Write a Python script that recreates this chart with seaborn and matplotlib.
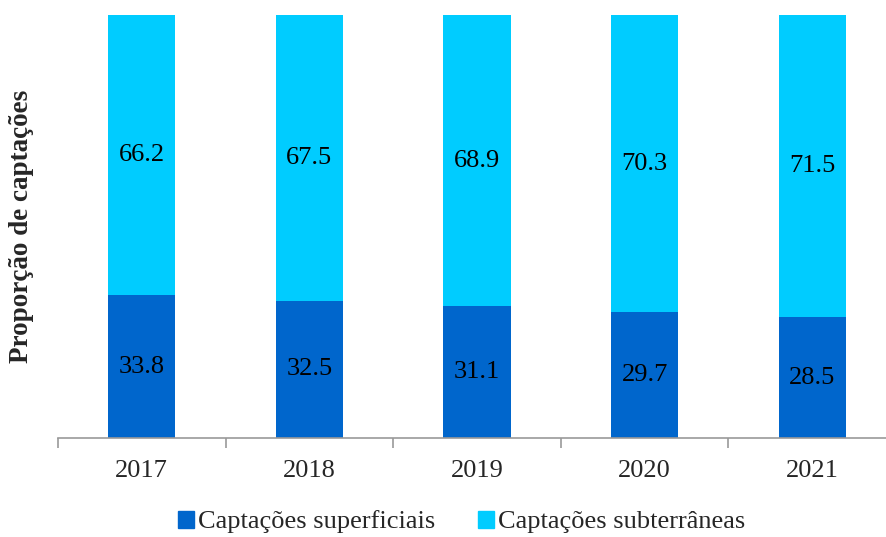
import pandas as pd
import matplotlib.pyplot as plt
import seaborn as sns
from matplotlib.patches import Patch

anos = ['2017', '2018', '2019', '2020', '2021']
superficiais = [33.8, 32.5, 31.1, 29.7, 28.5]
subterraneas = [66.2, 67.5, 68.9, 70.3, 71.5]

cor_sup = '#0066CC'
cor_sub = '#00CCFF'

sns.set_style('white')
plt.rcParams['font.family'] = ['Liberation Serif', 'DejaVu Serif']

df = pd.DataFrame({'ano': anos, 'sup': superficiais, 'sub': subterraneas})
df['total'] = df['sup'] + df['sub']

fig = plt.figure(figsize=(8.86, 5.37), dpi=100)
ax = fig.add_axes([58 / 886, 99 / 537, 838 / 886, 423 / 537])

# stacked bars: total (light) behind, superficial (dark) in front
sns.barplot(data=df, x='ano', y='total', color=cor_sub, width=0.4, saturation=1, linewidth=0, ax=ax)
sns.barplot(data=df, x='ano', y='sup', color=cor_sup, width=0.4, saturation=1, linewidth=0, ax=ax)

for i, (s, u) in enumerate(zip(superficiais, subterraneas)):
    ax.text(i, s / 2, f'{s:.1f}', ha='center', va='center', fontsize=19, color='black')
    ax.text(i, s + u / 2, f'{u:.1f}', ha='center', va='center', fontsize=19, color='black')

ax.set_xlim(-0.5, len(anos) - 0.5)
ax.set_ylim(0, 100)
ax.set_xlabel('')
ax.set_ylabel('Proporção de captações', fontsize=19.5, fontweight='bold', labelpad=17)
ax.set_yticks([])

for side in ['top', 'right', 'left']:
    ax.spines[side].set_visible(False)
ax.spines['bottom'].set_color('#999999')
ax.spines['bottom'].set_linewidth(1.2)

ax.set_xticks(range(len(anos)))
ax.set_xticklabels(anos, fontsize=19)
ax.set_xticks([i - 0.5 for i in range(len(anos) + 1)], minor=True)
ax.tick_params(axis='x', which='major', length=0, pad=16)
ax.tick_params(axis='x', which='minor', length=7, width=1.2, color='#999999', direction='out', bottom=True)

handles = [Patch(color=cor_sup, label='Captações superficiais'),
           Patch(color=cor_sub, label='Captações subterrâneas')]
fig.legend(handles=handles, loc='center', bbox_to_anchor=(0.521, 1 - 522 / 537), ncol=2,
           frameon=False, fontsize=19, handlelength=0.6, handleheight=0.6,
           handletextpad=0.15, columnspacing=1.6)

fig.savefig('out.png', dpi=100)
